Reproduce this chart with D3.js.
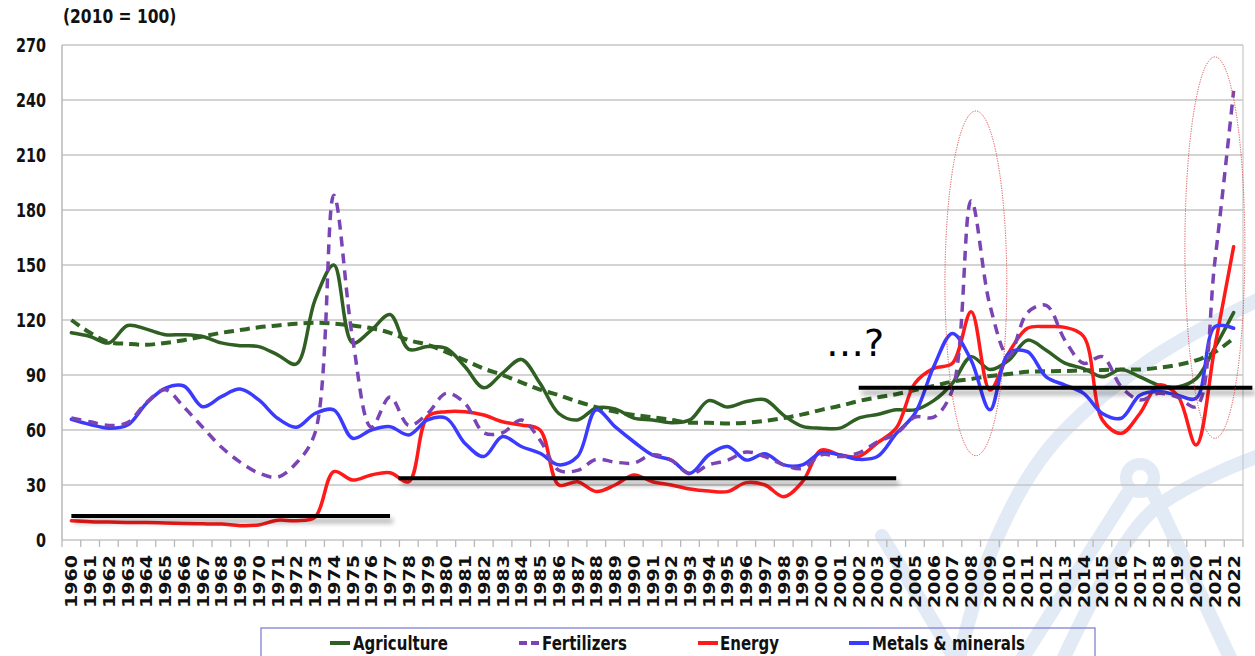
<!DOCTYPE html>
<html>
<head>
<meta charset="utf-8">
<script src="https://cdn.jsdelivr.net/npm/d3@7"></script>
<style>
  html, body { margin: 0; padding: 0; background: #ffffff; }
  svg { display: block; }
</style>
</head>
<body>
<svg id="chart" width="1255" height="656"></svg>
<script>
// ---------------- DATA ----------------
const years = d3.range(1960, 2023);
const yTicks = [0, 30, 60, 90, 120, 150, 180, 210, 240, 270];

const agriculture = [113, 111, 107.5, 117, 115, 112, 112, 111, 107.5, 106,
  105.5, 101, 96, 131, 150, 107.5, 114.5, 123, 104, 105.5,
  104.5, 94.5, 83, 91, 98.5, 85.5, 69, 65.5, 72, 71.5,
  66.5, 65.5, 64, 65.5, 76, 72.5, 75.5, 76.5, 68, 62,
  61, 61, 66.5, 68.5, 71, 71, 76, 85.5, 100, 93,
  98, 109, 103.5, 96.5, 93.5, 89, 93, 89, 84.5, 83.5,
  88, 105, 124];

const agricultureTrend = [120, 113, 108, 107, 106.5, 107.5, 109, 111, 113, 114.5,
  116, 117, 118, 118.5, 118, 117, 115.5, 113, 109, 106.5,
  102.5, 98, 93.5, 90, 86, 82, 79, 75.5, 72.5, 70,
  68.2, 67, 65.5, 64, 64, 63.5, 64, 65, 66.5, 68.5,
  71, 73.2, 75.8, 77.8, 79.5, 81.8, 84, 86.4, 87.8, 89.5,
  90.5, 91.8, 92, 92.2, 92.5, 92.7, 93, 93, 94, 95.5,
  98, 102.5, 110];

const fertilizers = [66.5, 64.5, 62.5, 64, 75, 82, 72.5, 61.5, 50.7, 42.5,
  36.5, 34.3, 42, 58.5, 188, 110, 61.5, 78, 62.5, 69,
  80, 74.5, 58.5, 58.5, 65.5, 54.5, 38, 38, 44, 42.5,
  42, 46.5, 43.5, 36, 41, 43.5, 48, 45.5, 41, 39,
  46.5, 45.5, 47.5, 53.5, 58, 67, 67, 82, 185, 128,
  100, 124, 128, 109, 96.4, 100, 83.6, 76.4, 80, 78,
  72.7, 152, 245];

const energy = [10.5, 10, 9.8, 9.6, 9.5, 9.3, 9, 8.8, 8.7, 7.8,
  8.2, 10.8, 10.5, 12.5, 37.3, 32.7, 35.5, 36.7, 31.8, 67.3,
  70, 70, 68.2, 64.5, 62.7, 60, 30, 31.8, 26.4, 30,
  35.5, 31.8, 30, 27.8, 26.7, 26.4, 31.3, 30, 23.6, 31.8,
  49, 46.4, 45.5, 53, 61, 85.5, 93.6, 96.4, 124.5, 81.8,
  102, 115.5, 116.4, 116, 111, 65.5, 58.2, 69, 84.5, 79,
  51.8, 105.5, 160];

const metals = [65.8, 63, 61, 62.7, 74.5, 82.7, 84, 72.7, 78.2, 82.3,
  76.4, 66.4, 61.5, 69, 71, 55.5, 60, 61.8, 57.3, 65.5,
  66.4, 52.7, 45.5, 56.4, 51, 47.3, 41, 45.5, 71, 61.8,
  53.6, 46.4, 43.6, 36.4, 46.4, 51, 43.6, 47, 41, 41,
  47.6, 46.4, 44, 45.5, 58, 69, 94.5, 112.7, 98, 71,
  101.8, 102.7, 89, 84.5, 80, 69, 66.4, 79, 81, 79,
  77.3, 116.4, 115.5];

// annotation levels (black plateau lines): from year, to year, level
const plateaus = [
  { from: 1960, to: 1977, level: 13.1 },
  { from: 1977.45, to: 2004, level: 33.7 },
  { from: 2002, to: 2023, level: 83.1 }
];
// highlighted spikes (dotted red ellipses): centre year, value range
const spikes = [
  { year: 2008.25, halfYears: 1.65, lo: 46, hi: 234 },
  { year: 2021.0, halfYears: 1.6, lo: 55.5, hi: 263.5 }
];

const seriesDefs = [
  { name: "AgricultureTrend", values: agricultureTrend, color: "#2f6422", width: 4, dash: "10,6", legend: false },
  { name: "Agriculture", values: agriculture, color: "#2f5f22", width: 3.5, dash: null, legend: true },
  { name: "Energy", values: energy, color: "#ff1a1a", width: 3.5, dash: null, legend: true },
  { name: "Metals & minerals", values: metals, color: "#3b3bff", width: 3.5, dash: null, legend: true },
  { name: "Fertilizers", values: fertilizers, color: "#7a44b4", width: 3.5, dash: "10,7", legend: true }
];

// ---------------- LAYOUT ----------------
const svg = d3.select("#chart");
const pLeft = 62, pRight = 1243, pTop = 45, pBottom = 540;
const FONT = "'DejaVu Sans', Verdana, sans-serif";

const x = d3.scaleBand().domain(years).range([pLeft, pRight]).paddingInner(0).paddingOuter(0);
const step = x.step();
const xc = yr => x(1960) + step / 2 + (yr - 1960) * step;   // continuous year position
const y = d3.scaleLinear().domain([0, 270]).range([pBottom, pTop]);

// defs: shadow (user space region so zero-height lines still render)
const defs = svg.append("defs");
const f = defs.append("filter").attr("id", "shadow")
  .attr("filterUnits", "userSpaceOnUse")
  .attr("x", 0).attr("y", 0).attr("width", 1255).attr("height", 656);
f.append("feGaussianBlur").attr("in", "SourceAlpha").attr("stdDeviation", 2.6).attr("result", "b");
f.append("feOffset").attr("in", "b").attr("dx", 3).attr("dy", 5).attr("result", "o");
f.append("feComponentTransfer").attr("in", "o").attr("result", "s")
  .append("feFuncA").attr("type", "linear").attr("slope", 0.35);
const fm = f.append("feMerge");
fm.append("feMergeNode").attr("in", "s");
fm.append("feMergeNode").attr("in", "SourceGraphic");

// ---------------- WATERMARK (decorative) ----------------
const wm = svg.append("g").attr("fill", "none").attr("stroke", "#e2ebf5")
  .attr("stroke-width", 14).attr("stroke-linecap", "round");
const wline = d3.line().curve(d3.curveCatmullRom.alpha(0.5));
wm.append("path").attr("d", wline([[958, 662], [993, 547], [1050, 447], [1150, 360], [1262, 298]]));
wm.append("path").attr("d", wline([[1062, 662], [1150, 513], [1262, 455]]));
wm.append("path").attr("d", wline([[882, 536], [957, 662]]));
wm.append("path").attr("d", wline([[1020, 662], [1127, 494]]));
wm.append("circle").attr("cx", 1140).attr("cy", 478).attr("r", 14).attr("stroke-width", 12);
wm.append("path").attr("d", wline([[1153, 492], [1232, 662]]));

// ---------------- GRID & AXES ----------------
const grid = svg.append("g");
grid.selectAll("line.g").data(yTicks).join("line")
  .attr("x1", pLeft).attr("x2", pRight)
  .attr("y1", d => y(d)).attr("y2", d => y(d))
  .attr("stroke", "#c4c4c4").attr("stroke-width", 1.5);
grid.append("line").attr("x1", pLeft).attr("x2", pLeft).attr("y1", pTop).attr("y2", pBottom)
  .attr("stroke", "#b8b8b8").attr("stroke-width", 1.5);
grid.append("line").attr("x1", pRight).attr("x2", pRight).attr("y1", pTop).attr("y2", pBottom)
  .attr("stroke", "#c8c8c8").attr("stroke-width", 1.2);
const tickPos = years.map(d => x(d)).concat([pRight]);
grid.selectAll("line.t").data(tickPos).join("line")
  .attr("x1", d => d).attr("x2", d => d).attr("y1", pBottom).attr("y2", pBottom + 7)
  .attr("stroke", "#b8b8b8").attr("stroke-width", 1.3);

// y labels
svg.append("g").selectAll("text").data(yTicks).join("text")
  .attr("transform", d => `translate(46,${y(d) + 7}) scale(1,1.33)`)
  .attr("text-anchor", "end")
  .attr("font-family", FONT).attr("font-weight", "bold").attr("font-size", 14.4)
  .attr("fill", "#111").text(d => d);

// x labels (rotated)
svg.append("g").selectAll("text").data(years).join("text")
  .attr("transform", d => `translate(${x(d) + step / 2 + 6},555) rotate(-90)`)
  .attr("text-anchor", "end")
  .attr("font-family", FONT).attr("font-weight", "bold").attr("font-size", 16)
  .attr("textLength", 53).attr("lengthAdjust", "spacingAndGlyphs")
  .attr("fill", "#111").text(d => d);

// title
svg.append("text").attr("transform", "translate(63,23) scale(1,1.2)")
  .attr("font-family", FONT).attr("font-weight", "bold").attr("font-size", 15.5)
  .attr("fill", "#111").text("(2010 = 100)");

// ---------------- SERIES ----------------
const line = d3.line()
  .x((d, i) => x(years[i]) + step / 2)
  .y(d => y(d))
  .curve(d3.curveCatmullRom.alpha(0.5));

const lines = svg.append("g").attr("fill", "none");
seriesDefs.forEach(s => {
  lines.append("path")
    .attr("d", line(s.values))
    .attr("stroke", s.color)
    .attr("stroke-width", s.width)
    .attr("stroke-dasharray", s.dash)
    .attr("stroke-linejoin", "round")
    .attr("stroke-linecap", s.dash ? "butt" : "round");
});

// ---------------- ANNOTATIONS ----------------
svg.append("g").attr("filter", "url(#shadow)")
  .selectAll("line").data(plateaus).join("line")
  .attr("x1", d => xc(d.from)).attr("x2", d => xc(d.to))
  .attr("y1", d => y(d.level)).attr("y2", d => y(d.level))
  .attr("stroke", "#000").attr("stroke-width", 4);

svg.append("g").selectAll("ellipse").data(spikes).join("ellipse")
  .attr("cx", d => xc(d.year))
  .attr("cy", d => (y(d.lo) + y(d.hi)) / 2)
  .attr("rx", d => d.halfYears * step)
  .attr("ry", d => (y(d.lo) - y(d.hi)) / 2)
  .attr("fill", "none").attr("stroke", "#d83b3b").attr("stroke-width", 0.9)
  .attr("stroke-dasharray", "1.2,1.3");

svg.append("text").attr("x", 826).attr("y", 356)
  .attr("font-family", FONT).attr("font-size", 38).attr("fill", "#000")
  .text("\u2026?");

// ---------------- LEGEND ----------------
const lg = svg.append("g");
lg.append("rect").attr("x", 261).attr("y", 628).attr("width", 834).attr("height", 40)
  .attr("fill", "none").attr("stroke", "#8a8ad6").attr("stroke-width", 1.4);
const legendItems = [
  { s: seriesDefs[1], x0: 330, tx: 353 },
  { s: seriesDefs[4], x0: 519, tx: 542 },
  { s: seriesDefs[2], x0: 698, tx: 720 },
  { s: seriesDefs[3], x0: 849, tx: 872 }
];
legendItems.forEach(it => {
  lg.append("line").attr("x1", it.x0).attr("x2", it.x0 + 20).attr("y1", 643).attr("y2", 643)
    .attr("stroke", it.s.color).attr("stroke-width", 4)
    .attr("stroke-dasharray", it.s.dash ? "8,4" : null);
  lg.append("text").attr("transform", `translate(${it.tx},650) scale(1,1.35)`)
    .attr("font-family", FONT).attr("font-weight", "bold").attr("font-size", 15)
    .attr("fill", "#111").text(it.s.name);
});
</script>
</body>
</html>
